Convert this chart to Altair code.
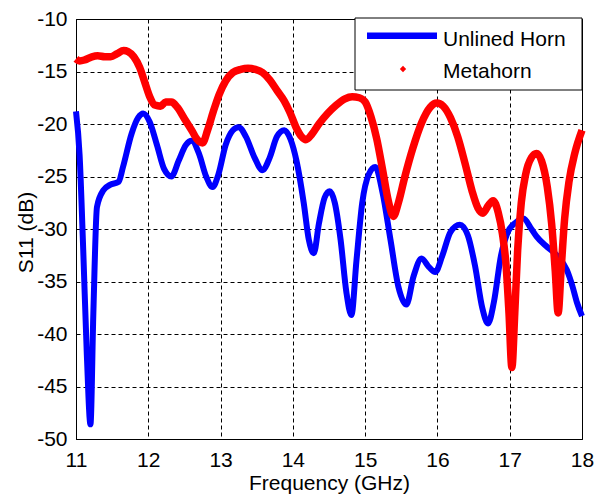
import altair as alt
import pandas as pd

# ---- data ----
unlined_freq = [11.00, 11.05, 11.10, 11.15, 11.20, 11.24, 11.29, 11.38, 11.47, 11.59, 11.65,
                11.77, 11.86, 11.93, 12.02, 12.12, 12.22, 12.32, 12.42, 12.52, 12.60, 12.70,
                12.80, 12.89, 12.97, 13.07, 13.17, 13.25, 13.35, 13.47, 13.58, 13.68, 13.78,
                13.88, 13.97, 14.05, 14.15, 14.22, 14.29, 14.36, 14.44, 14.51, 14.58, 14.66,
                14.74, 14.81, 14.88, 14.96, 15.05, 15.14, 15.24, 15.35, 15.46, 15.57, 15.67,
                15.78, 15.88, 15.97, 16.07, 16.18, 16.31, 16.42, 16.52, 16.62, 16.70, 16.78,
                16.88, 16.98, 17.08, 17.19, 17.30, 17.37, 17.50, 17.65, 17.79, 17.87, 17.93,
                18.00]
unlined_s11 = [-18.8, -23.0, -32.0, -42.0, -48.6, -38.0, -27.9, -26.3, -25.8, -25.5, -24.1,
               -20.9, -19.4, -19.0, -19.8, -22.0, -24.3, -25.0, -23.5, -22.0, -21.6, -22.8,
               -25.0, -26.0, -24.8, -22.0, -20.6, -20.3, -21.2, -23.2, -24.4, -23.2, -21.2,
               -20.6, -21.5, -23.5, -27.5, -31.0, -32.3, -29.5, -27.0, -26.4, -27.5, -31.0,
               -36.0, -38.2, -33.0, -27.5, -24.8, -24.1, -26.5, -31.0, -35.5, -37.2, -34.5,
               -32.8, -33.6, -34.1, -32.5, -30.3, -29.6, -30.6, -33.5, -37.5, -39.0, -37.0,
               -32.5, -30.2, -29.4, -29.0, -30.0, -30.7, -31.6, -32.5, -33.9, -35.5, -37.0,
               -38.3]

meta_freq = [11.00, 11.05, 11.12, 11.22, 11.30, 11.40, 11.48, 11.57, 11.66, 11.72, 11.80,
             11.88, 11.95, 12.02, 12.09, 12.17, 12.24, 12.32, 12.40, 12.50, 12.60, 12.68,
             12.75, 12.82, 12.90, 12.98, 13.07, 13.17, 13.28, 13.38, 13.48, 13.58, 13.68,
             13.78, 13.88, 13.96, 14.05, 14.12, 14.18, 14.26, 14.36, 14.48, 14.60, 14.72,
             14.82, 14.92, 15.00, 15.08, 15.16, 15.24, 15.32, 15.39, 15.46, 15.55, 15.66,
             15.78, 15.90, 15.99, 16.08, 16.18, 16.28, 16.38, 16.48, 16.56, 16.63, 16.70,
             16.77, 16.84, 16.90, 16.95, 16.99, 17.03, 17.07, 17.11, 17.16, 17.22, 17.30,
             17.37, 17.44, 17.52, 17.58, 17.63, 17.67, 17.71, 17.76, 17.82, 17.90, 18.00]
meta_s11 = [-13.8, -14.0, -13.9, -13.6, -13.5, -13.6, -13.6, -13.3, -13.0, -13.1, -13.6,
            -14.6, -16.0, -17.4, -18.2, -18.3, -17.9, -17.9, -18.4, -19.5, -20.6, -21.5,
            -21.8, -20.6, -18.8, -17.2, -15.9, -15.1, -14.8, -14.7, -14.8, -15.1, -15.8,
            -16.8, -17.8, -18.9, -20.4, -21.2, -21.5, -21.0, -20.0, -19.0, -18.2, -17.6,
            -17.4, -17.5, -17.9, -19.3, -21.4, -24.3, -27.3, -28.8, -27.5, -25.0, -22.3,
            -19.9, -18.4, -18.0, -18.3, -19.4, -21.2, -23.7, -26.4, -28.0, -28.5, -27.8,
            -27.3, -28.4, -30.5, -33.5, -38.0, -43.2, -38.0, -32.0, -27.5, -24.8, -23.2,
            -22.8, -23.5, -26.0, -29.5, -34.0, -38.0, -34.0, -29.0, -25.5, -22.8, -20.6]

x_ticks = [11, 12, 13, 14, 15, 16, 17, 18]
y_ticks = [-50, -45, -40, -35, -30, -25, -20, -15, -10]
series_names = ["Unlined Horn", "Metahorn"]

FONT = "Liberation Sans"
BLUE = "#0000ff"
RED = "#ff0000"

unlined_df = pd.DataFrame({"freq": unlined_freq, "s11": unlined_s11})
meta_df = pd.DataFrame({"freq": meta_freq, "s11": meta_s11})
one = pd.DataFrame({"k": [0]})

x_enc = alt.X("freq:Q",
              scale=alt.Scale(domain=[11, 18], nice=False, zero=False),
              axis=alt.Axis(values=x_ticks, labelExpr="'' + datum.value", title="Frequency (GHz)",
                            labelPadding=10, labelFlush=False, titleX=253, titleY=50,
                            titleBaseline="alphabetic", titleAlign="center"))
y_enc = alt.Y("s11:Q",
              scale=alt.Scale(domain=[-50, -10], nice=False, zero=False),
              axis=alt.Axis(values=y_ticks, labelExpr="'' + datum.value", title="S11 (dB)",
                            labelPadding=9, labelFlush=False, titleX=-40, titleY=213,
                            titleAngle=270, titleBaseline="bottom", titleAlign="center"))

blue_line = alt.Chart(unlined_df).mark_line(
    color=BLUE, strokeWidth=6, interpolate="monotone"
).encode(x=x_enc, y=y_enc)

red_line = alt.Chart(meta_df).mark_line(
    color=RED, strokeWidth=7.5, interpolate="monotone"
).encode(x=x_enc, y=y_enc)

legend_box = alt.Chart(one).mark_rect(fill="white", stroke="black", strokeWidth=1).encode(
    x=alt.value(279), x2=alt.value(506), y=alt.value(-1), y2=alt.value(71))
legend_blue = alt.Chart(one).mark_rule(color=BLUE, strokeWidth=6.5).encode(
    x=alt.value(291), x2=alt.value(361), y=alt.value(16.7))
legend_red = alt.Chart(one).mark_point(shape="diamond", filled=True, color=RED,
                                       size=40, opacity=1).encode(
    x=alt.value(327), y=alt.value(50))
legend_t1 = alt.Chart(one).mark_text(text=series_names[0], align="left", baseline="alphabetic",
                                     font=FONT, fontSize=21, color="black").encode(
    x=alt.value(367), y=alt.value(26.7))
legend_t2 = alt.Chart(one).mark_text(text=series_names[1], align="left", baseline="alphabetic",
                                     font=FONT, fontSize=21, color="black").encode(
    x=alt.value(367), y=alt.value(59.3))

chart = alt.layer(
    blue_line, red_line, legend_box, legend_blue, legend_red, legend_t1, legend_t2
).properties(
    width=506, height=420,
    autosize=alt.AutoSizeParams(type="none"),
    padding={"left": 68, "top": 11, "right": 12, "bottom": 56},
    background="white",
).configure_view(
    stroke="black", strokeWidth=1
).configure_axis(
    labelFont=FONT, labelFontSize=21, labelColor="black",
    titleFont=FONT, titleFontSize=21, titleColor="black", titleFontWeight="normal",
    domainColor="black", domainWidth=1,
    grid=True, gridColor="black", gridOpacity=1, gridDash=[4, 3], gridWidth=1,
    ticks=False,
)

chart.save("out.html", embed_options={"renderer": "svg", "actions": False})
